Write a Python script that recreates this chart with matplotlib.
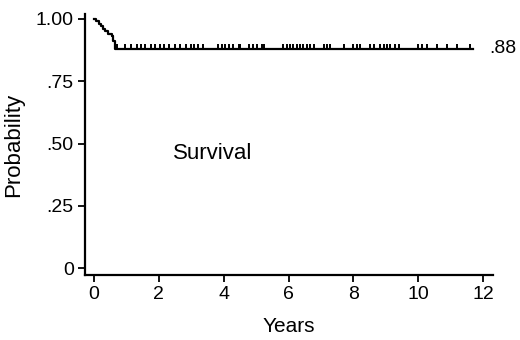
import numpy as np
import matplotlib.pyplot as plt

plt.rcParams['font.family'] = ['Liberation Sans', 'DejaVu Sans']

# Kaplan-Meier step curve (early drop)
step_t = [0, 0.08, 0.15, 0.22, 0.28, 0.35, 0.45, 0.55, 0.6, 0.64, 11.7]
step_s = [1.0, 0.99, 0.98, 0.97, 0.96, 0.95, 0.94, 0.93, 0.91, 0.88, 0.88]

# censored observations (years)
censor_t = [0.71, 0.95, 1.13, 1.33, 1.45, 1.57, 1.76, 1.87, 2.03, 2.16, 2.33, 2.5,
            2.65, 2.84, 3.0, 3.1, 3.2, 3.35, 3.84, 3.94, 4.05, 4.15, 4.3, 4.46,
            4.51, 4.77, 4.92, 5.03, 5.18, 5.23, 5.84, 5.95, 6.05, 6.15, 6.26,
            6.36, 6.46, 6.57, 6.67, 6.77, 7.08, 7.19, 7.29, 7.7, 8.0, 8.1, 8.2,
            8.52, 8.62, 8.83, 8.93, 9.03, 9.14, 9.29, 9.39, 10.0, 10.1, 10.27,
            10.58, 10.89, 11.2, 11.6]
final_s = 0.88

xticks = [0, 2, 4, 6, 8, 10, 12]
yticks = [0, 0.25, 0.5, 0.75, 1.0]
ylabels = ['0', '.25', '.50', '.75', '1.00']

fig = plt.figure(figsize=(5.2, 3.4), dpi=100)
ax = fig.add_axes([0.163, 0.191, 0.785, 0.768])

ax.step(step_t, step_s, where='post', color='black', lw=1.6)
ax.vlines(censor_t, final_s, final_s + 0.02, color='black', lw=1.4)
ax.text(12.2, final_s, '.88', fontsize=14, va='center', ha='left', clip_on=False)
ax.text(3.67, 0.46, 'Survival', fontsize=16, ha='center', va='center')

ax.set_xlim(-0.28, 12.3)
ax.set_ylim(-0.028, 1.02)
ax.set_xticks(xticks)
ax.set_yticks(yticks)
ax.set_yticklabels(ylabels)
ax.tick_params(direction='out', length=5, width=1.3, labelsize=14, pad=3)
for s in ['top', 'right']:
    ax.spines[s].set_visible(False)
for s in ['left', 'bottom']:
    ax.spines[s].set_linewidth(1.6)

ax.set_xlabel('Years', fontsize=15, labelpad=10)
ax.set_ylabel('Probability', fontsize=16, labelpad=8)

fig.savefig('out.png', dpi=100)
